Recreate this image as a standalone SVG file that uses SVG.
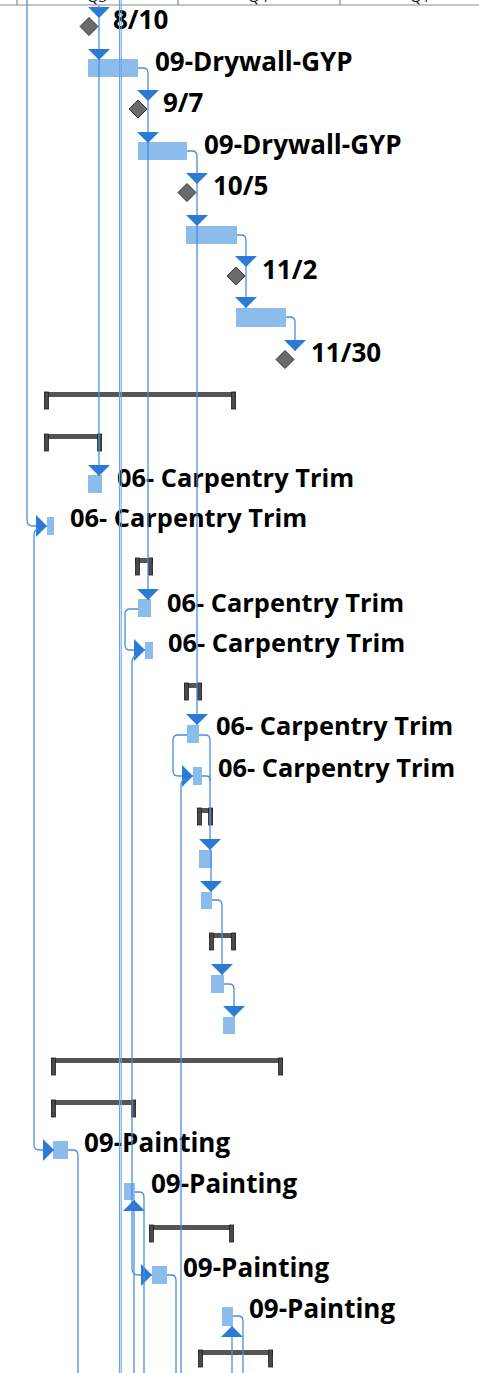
<svg xmlns="http://www.w3.org/2000/svg" width="479" height="1373" viewBox="0 0 479 1373">
<style>
.lbl{font-family:"Open Sans","Noto Sans","DejaVu Sans",sans-serif;font-weight:bold;font-size:26px;fill:#000}
.cl{font-size:25.4px}
.hdr{font-family:"Open Sans","Liberation Sans",sans-serif;font-size:15px;fill:#222;text-anchor:middle}
.bar{fill:#8cbcec}
.ms{fill:#6b6b6b;stroke:#333;stroke-width:1}
.sum{fill:#555}
.cap{fill:#4a4a4a;stroke:#1e1e1e;stroke-width:0.8}
.ln{fill:none;stroke:#4a8fdc;stroke-width:1.3}
.ln2{fill:none;stroke:#6aa6e6;stroke-width:1.1}
</style>
<defs>
<marker id="ah" viewBox="0 0 11 22" refX="11" refY="11" markerWidth="11" markerHeight="22" markerUnits="userSpaceOnUse" orient="auto">
<path d="M0 0 L11 11 L0 22 Z" fill="#2a7ad6"/>
</marker>
</defs>
<rect width="479" height="1373" fill="#fff"/>
<g id="header">
<text class="hdr" x="97" y="2">Q3</text>
<text class="hdr" x="258" y="2">Q4</text>
<text class="hdr" x="420" y="2">Q1</text>
<path d="M0 5 H479 M17 0 V5 M178 0 V5 M340 0 V5" stroke="#8a8a8a" stroke-width="1.2" fill="none"/>
</g>
<g id="m-8-10"><polygon class="ms" points="89,17.5 98,26.5 89,35.5 80,26.5"/><text class="lbl" x="113" y="29">8/10</text></g>
<g id="t-drywall-1"><rect class="bar" x="88" y="59" width="50" height="18"/><text class="lbl" x="155" y="71">09-Drywall-GYP</text></g>
<g id="m-9-7"><polygon class="ms" points="138,100 147,109 138,118 129,109"/><text class="lbl" x="163" y="112">9/7</text></g>
<g id="t-drywall-2"><rect class="bar" x="138" y="142" width="49" height="18"/><text class="lbl" x="204" y="154">09-Drywall-GYP</text></g>
<g id="m-10-5"><polygon class="ms" points="187,183.5 196,192.5 187,201.5 178,192.5"/><text class="lbl" x="213" y="195">10/5</text></g>
<g id="t-drywall-3"><rect class="bar" x="186" y="226" width="51" height="18"/></g>
<g id="m-11-2"><polygon class="ms" points="236,267 245,276 236,285 227,276"/><text class="lbl" x="262" y="279">11/2</text></g>
<g id="t-drywall-4"><rect class="bar" x="236" y="308" width="50" height="19"/></g>
<g id="m-11-30"><polygon class="ms" points="285,350.5 294,359.5 285,368.5 276,359.5"/><text class="lbl" x="311" y="362">11/30</text></g>

<g id="s1"><rect class="sum" x="44" y="392" width="192" height="5"/><rect class="cap" x="44.4" y="392" width="4" height="17"/><rect class="cap" x="231.6" y="392" width="4" height="17"/></g>
<g id="s2"><rect class="sum" x="44" y="434" width="58" height="5"/><rect class="cap" x="44.4" y="434" width="4" height="17"/><rect class="cap" x="97.6" y="434" width="4" height="17"/></g>
<g id="t-carp-1"><rect class="bar" x="88" y="475" width="14" height="18"/><text class="lbl cl" x="117" y="487">06- Carpentry Trim</text></g>
<g id="t-carp-2"><rect class="bar" x="47" y="517" width="7" height="18"/><text class="lbl cl" x="70" y="527">06- Carpentry Trim</text></g>
<g id="s3"><rect class="sum" x="135" y="558" width="18" height="5"/><rect class="cap" x="135.4" y="558" width="4" height="17"/><rect class="cap" x="148.6" y="558" width="4" height="17"/></g>
<g id="t-carp-3"><rect class="bar" x="138" y="599" width="13" height="18"/><text class="lbl cl" x="167" y="612">06- Carpentry Trim</text></g>
<g id="t-carp-4"><rect class="bar" x="145" y="642" width="8" height="17"/><text class="lbl cl" x="168" y="652">06- Carpentry Trim</text></g>
<g id="s4"><rect class="sum" x="184" y="683" width="18" height="5"/><rect class="cap" x="184.4" y="683" width="4" height="17"/><rect class="cap" x="197.6" y="683" width="4" height="17"/></g>
<g id="t-carp-5"><rect class="bar" x="187" y="725" width="12" height="18"/><text class="lbl cl" x="216" y="735">06- Carpentry Trim</text></g>
<g id="t-carp-6"><rect class="bar" x="193" y="767" width="9" height="18"/><text class="lbl cl" x="218" y="777">06- Carpentry Trim</text></g>
<g id="s5"><rect class="sum" x="197" y="808" width="16" height="5"/><rect class="cap" x="197.4" y="808" width="4" height="17"/><rect class="cap" x="208.6" y="808" width="4" height="17"/></g>
<g id="t-carp-7"><rect class="bar" x="199" y="850" width="13" height="18"/></g>
<g id="t-carp-8"><rect class="bar" x="201" y="892" width="11" height="17"/></g>
<g id="s6"><rect class="sum" x="209" y="933" width="27" height="5"/><rect class="cap" x="209.4" y="933" width="4" height="17"/><rect class="cap" x="231.6" y="933" width="4" height="17"/></g>
<g id="t-carp-9"><rect class="bar" x="211" y="975" width="13" height="18"/></g>
<g id="t-carp-10"><rect class="bar" x="223" y="1017" width="12" height="17"/></g>

<g id="s7"><rect class="sum" x="51" y="1058" width="232" height="5"/><rect class="cap" x="51.4" y="1058" width="4" height="17"/><rect class="cap" x="278.6" y="1058" width="4" height="17"/></g>
<g id="s8"><rect class="sum" x="51" y="1100" width="85" height="5"/><rect class="cap" x="51.4" y="1100" width="4" height="17"/><rect class="cap" x="131.6" y="1100" width="4" height="17"/></g>
<g id="t-paint-1"><rect class="bar" x="53" y="1141" width="15" height="18"/><text class="lbl" x="84" y="1152">09-Painting</text></g>
<g id="t-paint-2"><rect class="bar" x="124" y="1183" width="11" height="17"/><text class="lbl" x="151" y="1193">09-Painting</text></g>
<g id="s9"><rect class="sum" x="149" y="1225" width="85" height="5"/><rect class="cap" x="149.4" y="1225" width="4" height="17"/><rect class="cap" x="229.6" y="1225" width="4" height="17"/></g>
<g id="t-paint-3"><rect class="bar" x="152" y="1266" width="15" height="18"/><text class="lbl" x="183" y="1277">09-Painting</text></g>
<g id="t-paint-4"><rect class="bar" x="222" y="1307" width="11" height="19"/><text class="lbl" x="249" y="1318">09-Painting</text></g>
<g id="s10"><rect class="sum" x="198" y="1350" width="75" height="5"/><rect class="cap" x="198.4" y="1350" width="4" height="17"/><rect class="cap" x="268.6" y="1350" width="4" height="17"/></g>

<g id="connectors">
<path class="ln2" d="M119.5 0 V1373 M121.2 0 V1373"/>
<path class="ln" d="M27 0 V520 Q27 526 33 526 H47" marker-end="url(#ah)"/>
<path class="ln" d="M38 529 Q34 530 34 535 V1145 Q34 1150 40 1150 H54" marker-end="url(#ah)"/>
<path class="ln" d="M99 5 V18" marker-end="url(#ah)"/>
<path class="ln" d="M99 18 V60" marker-end="url(#ah)"/>
<path class="ln" d="M99 60 V476" marker-end="url(#ah)"/>
<path class="ln" d="M138 68 H143 Q148 68 148 73 V101" marker-end="url(#ah)"/>
<path class="ln" d="M148 101 V143" marker-end="url(#ah)"/>
<path class="ln" d="M148 143 V600" marker-end="url(#ah)"/>
<path class="ln" d="M187 151 H192 Q197 151 197 156 V184" marker-end="url(#ah)"/>
<path class="ln" d="M197 184 V226" marker-end="url(#ah)"/>
<path class="ln" d="M197 226 V725" marker-end="url(#ah)"/>
<path class="ln" d="M237 235 H241 Q246 235 246 240 V267" marker-end="url(#ah)"/>
<path class="ln" d="M246 267 V308" marker-end="url(#ah)"/>
<path class="ln" d="M286 317 H290 Q295 317 295 322 V351" marker-end="url(#ah)"/>
<path class="ln" d="M138 609 H130 Q125 609 125 614 V645 Q125 650 130 650 H145" marker-end="url(#ah)"/>
<path class="ln" d="M136 656 Q132 657 132 662 V1268 Q132 1275 138 1275 H152" marker-end="url(#ah)"/>
<path class="ln" d="M187 735 H178 Q173 735 173 740 V771 Q173 776 178 776 H193" marker-end="url(#ah)"/>
<path class="ln" d="M186 779 Q181 780 181 785 V1373"/>
<path class="ln" d="M199 735 H205 Q210 735 210 740 V850" marker-end="url(#ah)"/>
<path class="ln" d="M202 776 H206 Q210.5 776 210.5 781"/>
<path class="ln" d="M211 850 V892" marker-end="url(#ah)"/>
<path class="ln" d="M212 900 H217 Q222 900 222 905 V975" marker-end="url(#ah)"/>
<path class="ln" d="M224 984 H229 Q234 984 234 989 V1017" marker-end="url(#ah)"/>
<path class="ln" d="M68 1150 H73 Q78 1150 78 1155 V1373"/>
<path class="ln" d="M134 1373 V1200" marker-end="url(#ah)"/>
<path class="ln" d="M135 1192 H139 Q144 1192 144 1197 V1373"/>
<path class="ln" d="M167 1275 H171 Q176 1275 176 1280 V1373"/>
<path class="ln" d="M232 1373 V1326" marker-end="url(#ah)"/>
<path class="ln" d="M233 1316 H238 Q243 1316 243 1321 V1373"/>
</g>
</svg>
